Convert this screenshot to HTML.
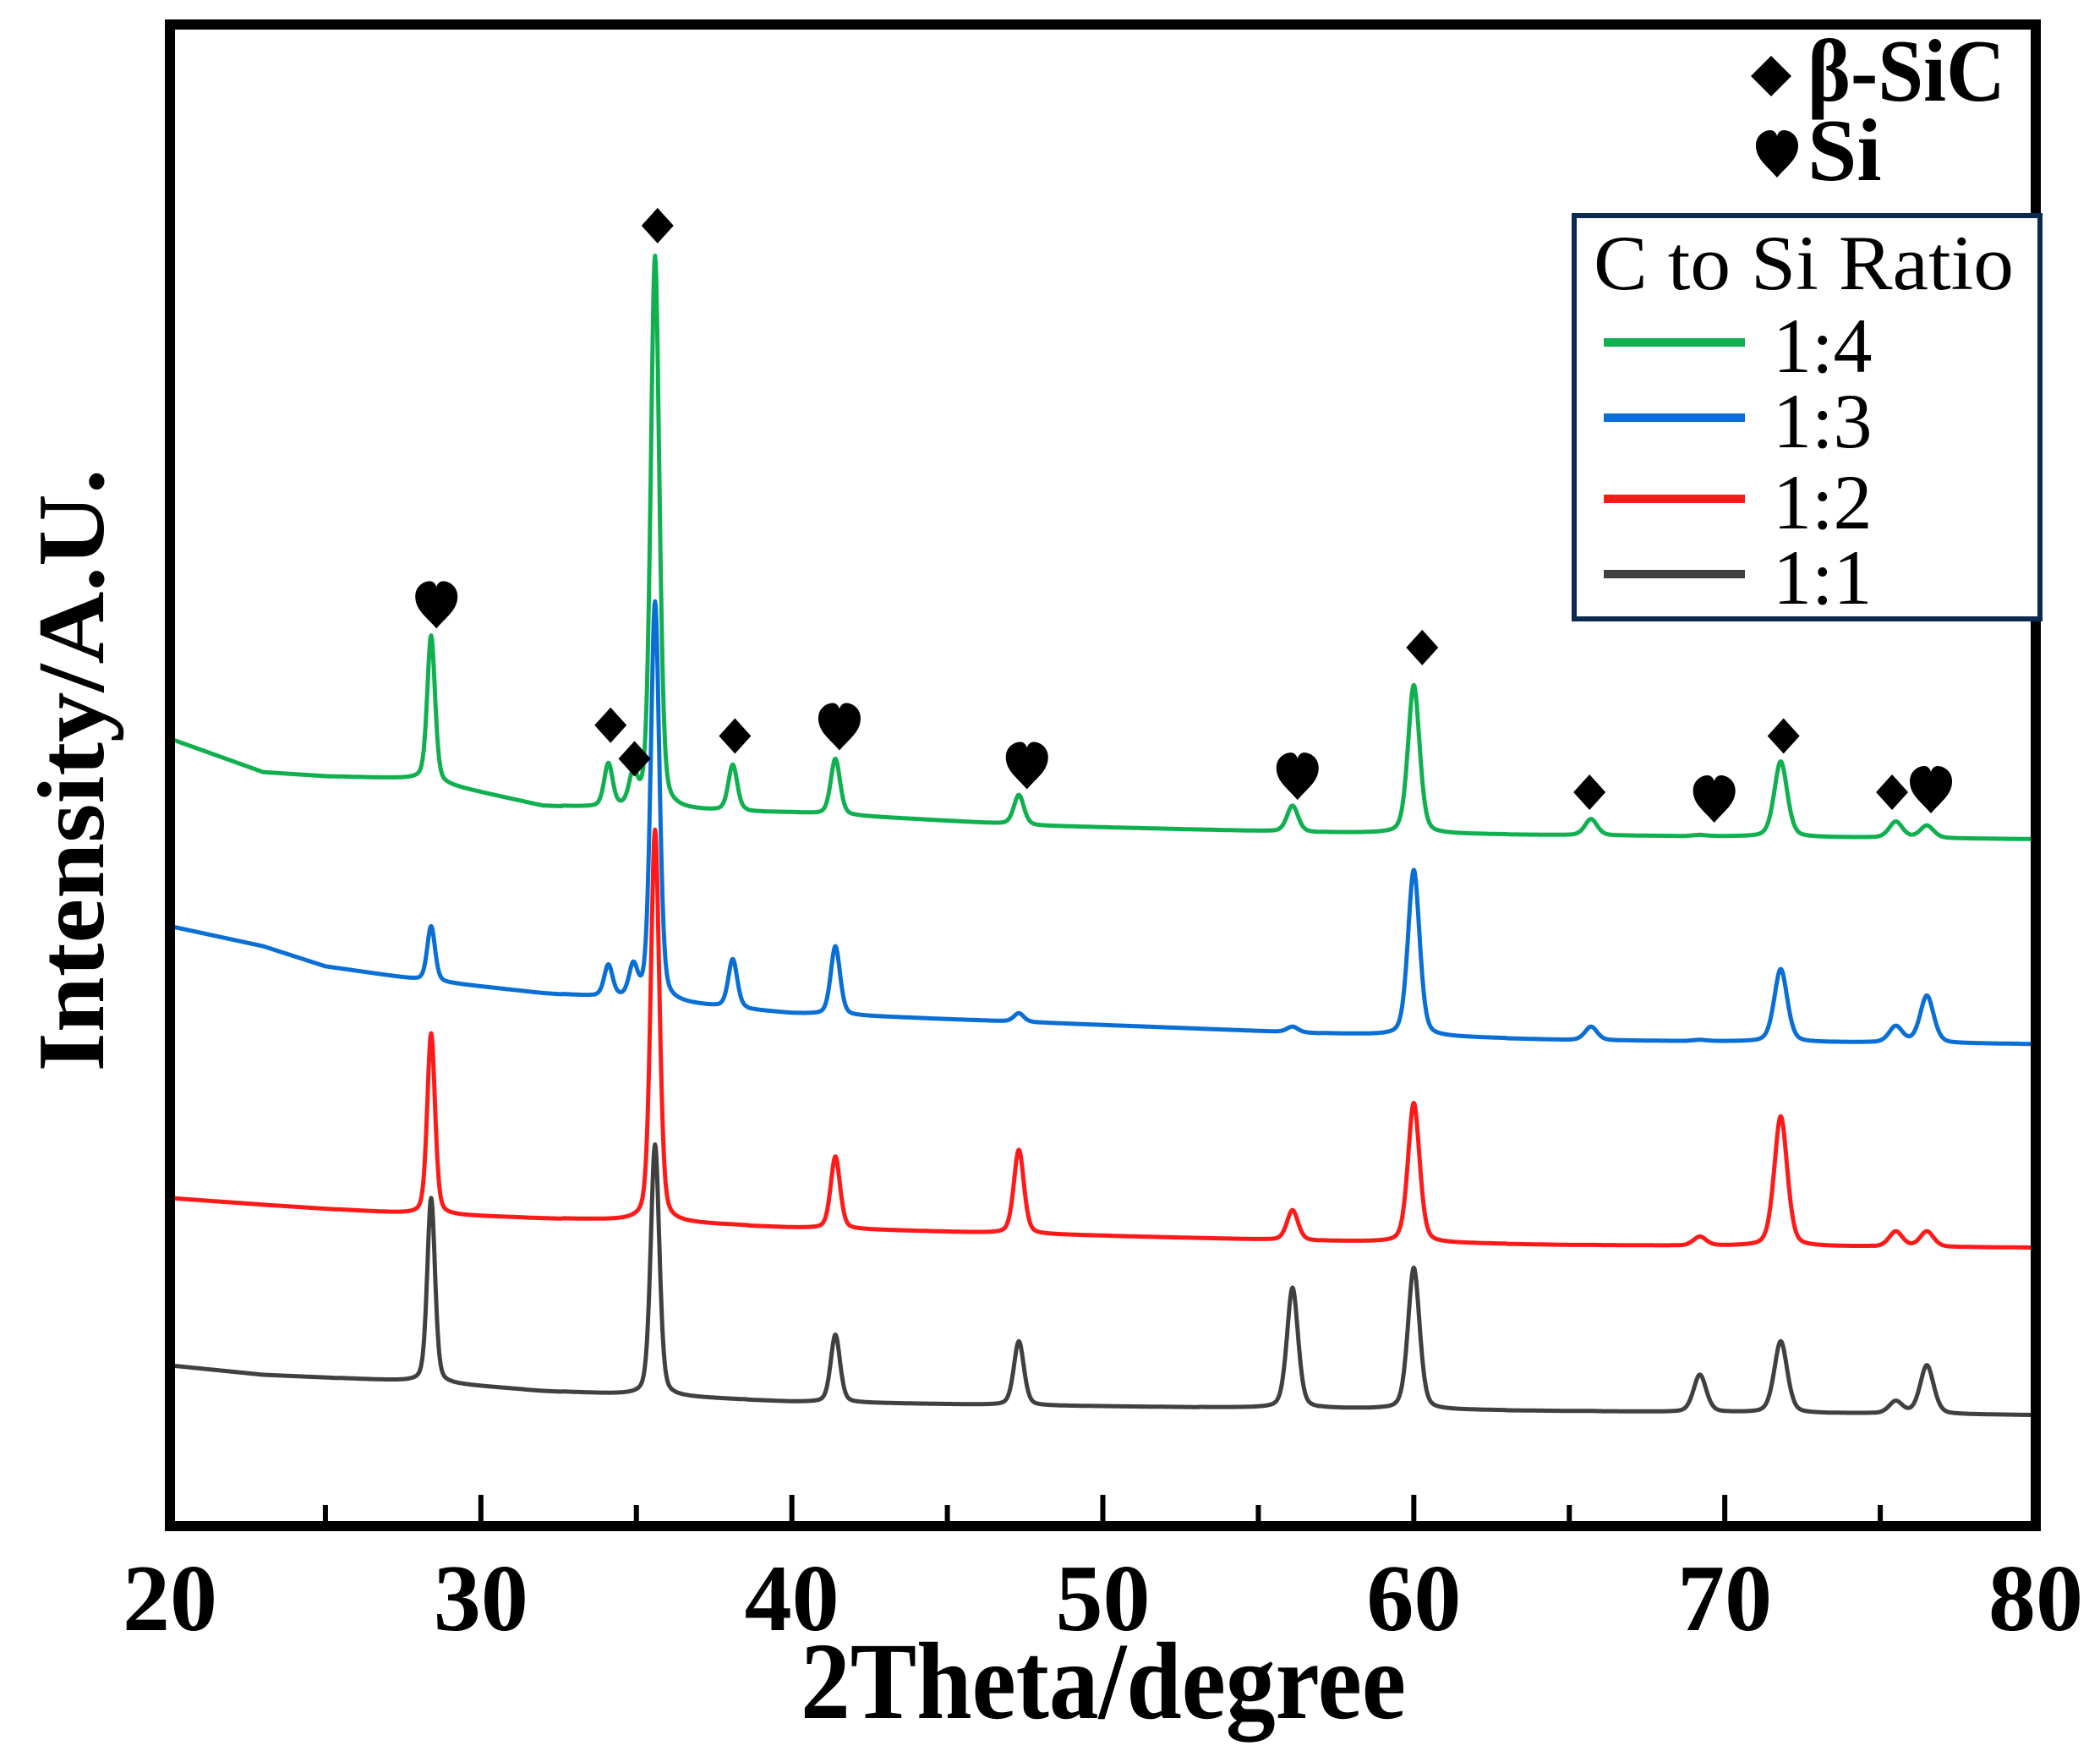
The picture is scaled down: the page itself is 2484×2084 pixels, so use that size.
<!DOCTYPE html>
<html><head><meta charset="utf-8"><style>
html,body{margin:0;padding:0;background:#fff;}
svg{display:block;}
</style></head><body>
<svg id="chart" width="2484" height="2084" viewBox="0 0 2484 2084" xmlns="http://www.w3.org/2000/svg">
<g id="series"></g>
<g id="markers"></g>
<rect x="201" y="29" width="2207" height="1776" fill="none" stroke="#000" stroke-width="12"/>
<g id="ticks"></g>
<text x="1305" y="2032" font-family="Liberation Serif, serif" font-weight="bold" font-size="130" text-anchor="middle" textLength="716" lengthAdjust="spacingAndGlyphs">2Theta/degree</text>
<text transform="translate(122,911) rotate(-90)" font-family="Liberation Serif, serif" font-weight="bold" font-size="112" text-anchor="middle" textLength="713" lengthAdjust="spacingAndGlyphs">Intensity/A.U.</text>
<g>
<path d="M2095 66 L2119 90 L2095 114 L2071 90 Z" fill="#000"/>
<text x="2138" y="119" font-family="Liberation Serif, serif" font-weight="bold" font-size="105" textLength="234" lengthAdjust="spacingAndGlyphs">β-SiC</text>
<path d="M2102 210 C2090 196 2077 188 2077 172 C2077 160 2087 154 2094 154 C2098 154 2101 157 2102 161 C2103 157 2106 154 2110 154 C2117 154 2127 160 2127 172 C2127 188 2114 196 2102 210 Z" fill="#000"/>
<text x="2138" y="213" font-family="Liberation Serif, serif" font-weight="bold" font-size="105">Si</text>
</g>
<g>
<rect x="1862" y="255" width="551" height="477" fill="#fff" stroke="#0a2a50" stroke-width="6"/>
<text x="1885" y="342" font-family="Liberation Serif, serif" font-size="92" textLength="497" lengthAdjust="spacingAndGlyphs">C to Si Ratio</text>
<g id="legendItems"></g>
</g>
</svg>
<script>
const NS='http://www.w3.org/2000/svg';
// axis
const xMin=20,xMax=80,pxL=201,pxR=2408;
function X(d){return pxL+(d-xMin)*(pxR-pxL)/(xMax-xMin);}
function Y(v){return 1805-v*1.584;}
const xTicks=[20,30,40,50,60,70,80];
const xMinorTicks=[25,35,45,55,65,75];
const seriesNames=['1:1','1:2','1:3','1:4'];
const seriesColors=['#404040','#ff1a1a','#0a6fd4','#10b050'];
// baseline anchors
const baseX=[20,23,25,28,32,35,40,48,57,65,80];
const base11=[120,113,111,108,101,98,93,90,88,86,83];
const base12=[245,240,237,233,230,228,223,218,213,210,208];
const base13=[448,433,418,408,398,393,383,376,368,363,360];
const base14=[588,563,560,558,538,535,533,523,518,516,513];
// peak positions and top heights
const peakPos=[28.4,34.1,34.9,35.6,38.1,41.4,47.3,56.1,60.0,65.7,69.2,71.8,75.5,76.5];
const top11=[245,98,98,285,93,143,138,178,193,86,113,138,93,120];
const top12=[368,228,228,520,225,276,281,236,316,210,216,306,220,220];
const top13=[448,418,416,690,423,433,383,373,490,373,363,416,373,396];
const top14=[665,568,558,948,568,573,546,538,628,528,516,571,526,523];
// marker annotations
const markerType=['h','d','d','d','d','h','h','h','d','d','h','d','d','h'];
const markerPos=[28.57,34.17,34.94,35.68,38.17,41.53,47.56,56.26,60.27,65.65,69.66,71.89,75.38,76.63];
const markerVal=[686,598,573,971,590,595,566,558,656,548,541,590,548,548];

function baseAt(bx,by,d){
  for(let i=0;i<bx.length-1;i++){if(d<=bx[i+1]){const t=(d-bx[i])/(bx[i+1]-bx[i]);return by[i]+t*(by[i+1]-by[i]);}}
  return by[by.length-1];
}
function profile(d){return 0;}
const bases=[base11,base12,base13,base14];
const tops=[top11,top12,top13,top14];
const sg=document.getElementById('series');
for(let s=0;s<4;s++){
  const amps=peakPos.map((p,i)=>Math.max(0,tops[s][i]-baseAt(baseX,bases[s],p)));
  let dstr='';
  for(let d=20;d<=80.0001;d+=0.02){
    let v=baseAt(baseX,bases[s],d);
    for(let i=0;i<peakPos.length;i++){
      if(amps[i]<=0)continue;
      const dd=d-peakPos[i];
      if(Math.abs(dd)>3)continue;
      const sig=0.11+0.002*(peakPos[i]-20), gam=0.13+0.002*(peakPos[i]-20);
      v+=amps[i]*(0.65*Math.exp(-dd*dd/(2*sig*sig))+0.35/(1+(dd/gam)*(dd/gam)));
    }
    dstr+=(dstr?'L':'M')+X(d).toFixed(1)+' '+Y(v).toFixed(1);
  }
  const p=document.createElementNS(NS,'path');
  p.setAttribute('d',dstr);p.setAttribute('fill','none');
  p.setAttribute('stroke',seriesColors[s]);p.setAttribute('stroke-width','5');
  p.setAttribute('stroke-linejoin','round');
  
  
  sg.appendChild(p);
}
// markers
const mg=document.getElementById('markers');
markerPos.forEach((m,i)=>{
  const cx=X(m),cy=Y(markerVal[i]);
  const p=document.createElementNS(NS,'path');
  let d;
  if(markerType[i]==='d'){d=`M${cx} ${cy-21}L${cx+19} ${cy}L${cx} ${cy+21}L${cx-19} ${cy}Z`;}
  else{d=`M${cx} ${cy+25}C${cx-12} ${cy+11} ${cx-25} ${cy+3} ${cx-25} ${cy-13}C${cx-25} ${cy-25} ${cx-15} ${cy-31} ${cx-8} ${cy-31}C${cx-4} ${cy-31} ${cx-1} ${cy-28} ${cx} ${cy-24}C${cx+1} ${cy-28} ${cx+4} ${cy-31} ${cx+8} ${cy-31}C${cx+15} ${cy-31} ${cx+25} ${cy-25} ${cx+25} ${cy-13}C${cx+25} ${cy+3} ${cx+12} ${cy+11} ${cx} ${cy+25}Z`;}
  p.setAttribute('d',d);p.setAttribute('fill','#000');
  
  
  mg.appendChild(p);
});
// ticks
const tg=document.getElementById('ticks');
xTicks.forEach(t=>{
  if(t>20&&t<80){
    const l=document.createElementNS(NS,'line');
    l.setAttribute('x1',X(t));l.setAttribute('x2',X(t));l.setAttribute('y1',1805);l.setAttribute('y2',1768);
    l.setAttribute('stroke','#000');l.setAttribute('stroke-width','6');
    
    
    tg.appendChild(l);
  }
  const tx=document.createElementNS(NS,'text');
  tx.setAttribute('x',X(t));tx.setAttribute('y',1928);tx.setAttribute('text-anchor','middle');
  tx.setAttribute('font-family','Liberation Serif, serif');tx.setAttribute('font-weight','bold');tx.setAttribute('font-size','112');
  tx.textContent=t;
  
  
  tg.appendChild(tx);
});
xMinorTicks.forEach(t=>{
  const l=document.createElementNS(NS,'line');
  l.setAttribute('x1',X(t));l.setAttribute('x2',X(t));l.setAttribute('y1',1805);l.setAttribute('y2',1780);
  l.setAttribute('stroke','#000');l.setAttribute('stroke-width','6');
  
  
  tg.appendChild(l);
});
// legend
const lg=document.getElementById('legendItems');
const legOrder=[3,2,1,0];
const legY=[405,494,590,679];
legOrder.forEach((s,i)=>{
  const l=document.createElementNS(NS,'line');
  l.setAttribute('x1',1897);l.setAttribute('x2',2064);l.setAttribute('y1',legY[i]);l.setAttribute('y2',legY[i]);
  l.setAttribute('stroke',seriesColors[s]);l.setAttribute('stroke-width','10');
  
  
  lg.appendChild(l);
  const tx=document.createElementNS(NS,'text');
  tx.setAttribute('x',2097);tx.setAttribute('y',legY[i]+35);
  tx.setAttribute('font-family','Liberation Serif, serif');tx.setAttribute('font-size','92');
  tx.textContent=seriesNames[s];
  
  
  lg.appendChild(tx);
});
</script>
</body></html>
